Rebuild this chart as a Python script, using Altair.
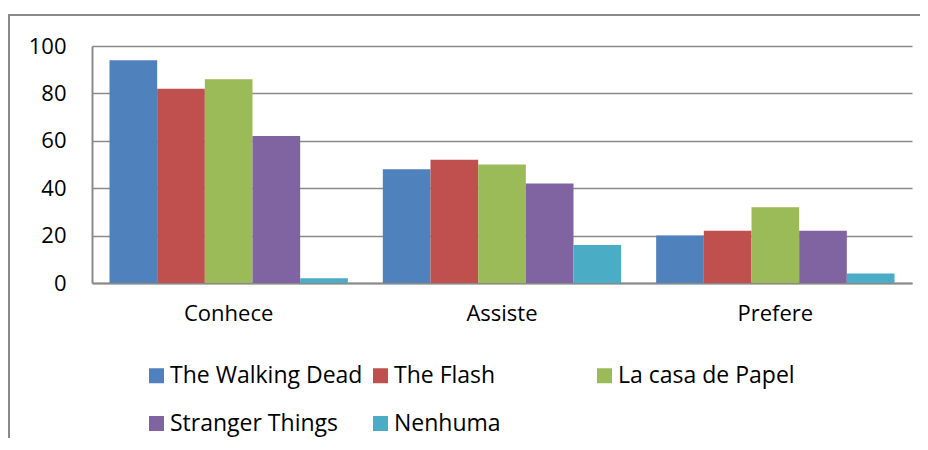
import altair as alt
import pandas as pd

categories = ["Conhece", "Assiste", "Prefere"]
series = ["The Walking Dead", "The Flash", "La casa de Papel", "Stranger Things", "Nenhuma"]
the_walking_dead = [94, 48, 20]
the_flash = [82, 52, 22]
la_casa_de_papel = [86, 50, 32]
stranger_things = [62, 42, 22]
nenhuma = [2, 16, 4]
colors = ["#4F81BD", "#C0504D", "#9BBB59", "#8064A2", "#4BACC6"]
y_ticks = [0, 20, 40, 60, 80, 100]

rows = []
for s, vals in zip(series, [the_walking_dead, the_flash, la_casa_de_papel, stranger_things, nenhuma]):
    for c, v in zip(categories, vals):
        rows.append({"categoria": c, "serie": s, "valor": v})
df = pd.DataFrame(rows)

font = "Open Sans"
gray = "#8a8a8a"

bars = alt.Chart(df).mark_bar().encode(
    x=alt.X(
        "categoria:N", sort=categories, title=None,
        scale=alt.Scale(paddingInner=0.128, paddingOuter=0.064),
        axis=alt.Axis(labelAngle=0, labelFont=font, labelFontSize=22, labelColor="black",
                      labelPadding=20, ticks=False, domainColor=gray, domainWidth=2, grid=False),
    ),
    xOffset=alt.XOffset("serie:N", sort=series, scale=alt.Scale(paddingInner=0, paddingOuter=0)),
    y=alt.Y(
        "valor:Q", title=None, scale=alt.Scale(domain=[0, 100]),
        axis=alt.Axis(values=y_ticks, labelFont=font, labelFontSize=22, labelColor="black",
                      labelPadding=26, ticks=False, domainColor=gray, domainWidth=2,
                      gridColor=gray, gridWidth=1.5),
    ),
    color=alt.Color(
        "serie:N", sort=series, scale=alt.Scale(domain=series, range=colors),
        legend=alt.Legend(title=None, orient="none", legendX=53, legendY=318, direction="horizontal",
                          columns=3, symbolType="square", symbolSize=225, symbolStrokeWidth=0,
                          symbolOpacity=1, labelFont=font, labelFontSize=23, labelColor="black",
                          labelOffset=2, columnPadding=6, rowPadding=24, gridAlign="all",
                          labelLimit=400),
    ),
)

frame_left = alt.Chart(pd.DataFrame({"k": [0]})).mark_rule(color=gray, strokeWidth=2).encode(
    x=alt.value(-83), y=alt.value(-31), y2=alt.value(420)
)
frame_top = alt.Chart(pd.DataFrame({"k": [0]})).mark_rule(color=gray, strokeWidth=2).encode(
    x=alt.value(-87), x2=alt.value(840), y=alt.value(-31)
)

chart = alt.layer(frame_left, frame_top, bars).properties(
    width=820, height=237,
    autosize=alt.AutoSizeParams(type="none"),
    padding={"left": 84, "top": 38, "right": 8, "bottom": 155},
).configure_view(stroke=None)

chart.save("out.html", embed_options={"renderer": "svg", "actions": False})
